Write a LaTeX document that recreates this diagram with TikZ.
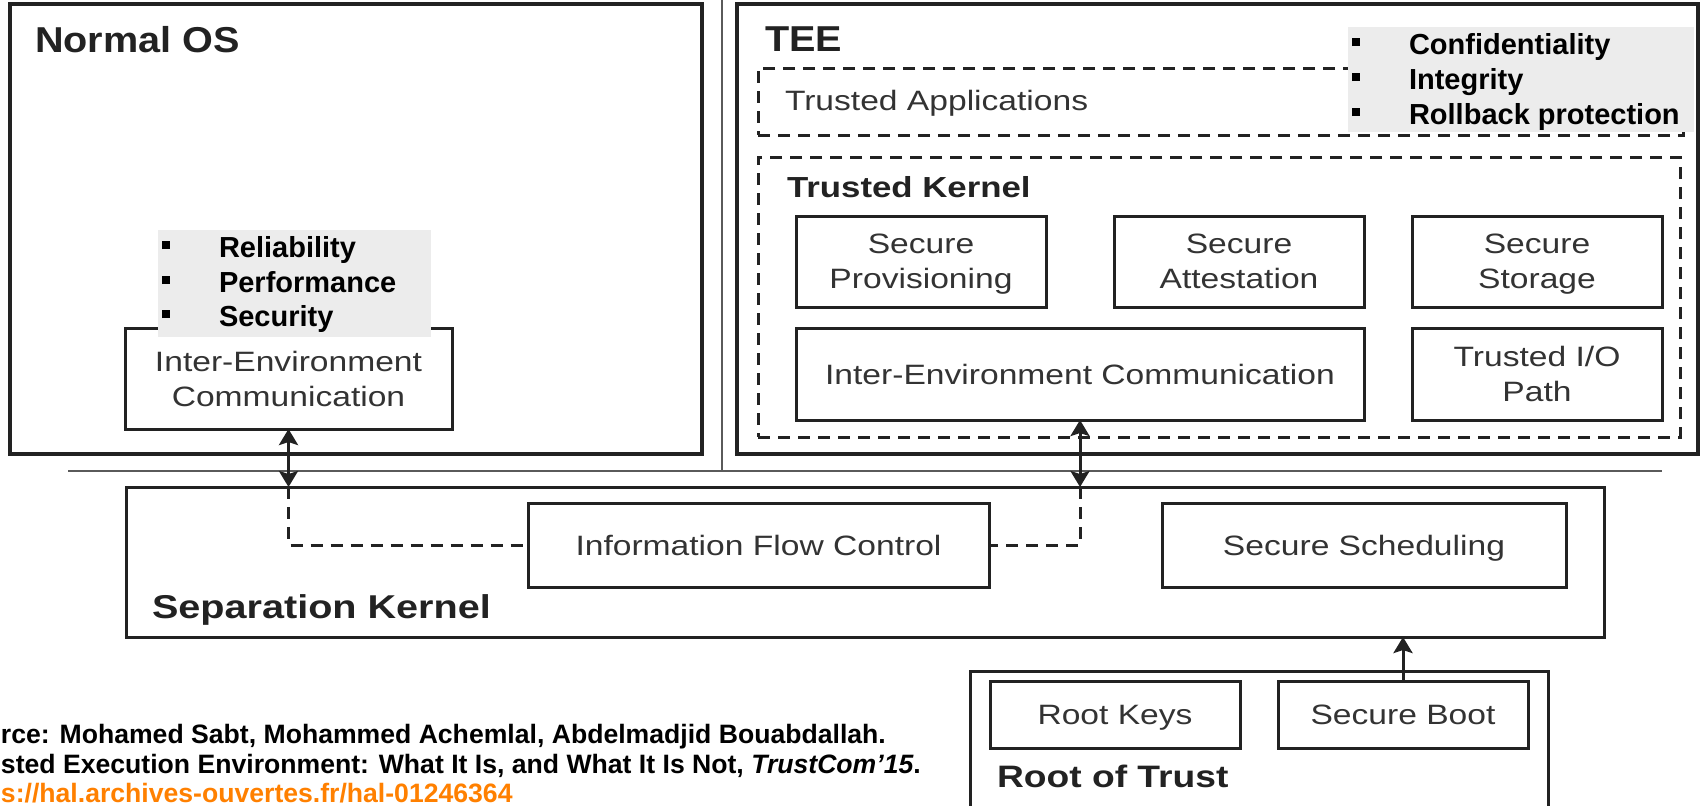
\documentclass[tikz,border=0pt]{standalone}
\usepackage{fontspec}
\setmainfont{Liberation Sans}
\newfontfamily\diagfont[FakeStretch=1.2]{Liberation Sans}
\newfontfamily\headfont[FakeStretch=1.1]{Liberation Sans}
\usetikzlibrary{arrows.meta}
\definecolor{ink}{HTML}{222222}
\definecolor{txt}{HTML}{333333}
\definecolor{panel}{HTML}{ECECEC}
\definecolor{linkorange}{RGB}{255,128,0}
\definecolor{sepline}{HTML}{5A5A5A}
\newcommand\bul{\makebox[28.5pt][l]{\rule[4pt]{4pt}{4pt}}}

\begin{document}
\begin{tikzpicture}[x=0.5pt,y=-0.5pt,
  every node/.style={inner sep=0pt, outer sep=0pt},
  box/.style={draw=ink, line width=1.5pt, align=center, text=txt, text depth=0pt,
    font=\diagfont\fontsize{14pt}{17.5pt}\selectfont},
  frame/.style={draw=ink, line width=1.6pt},
  zone/.style={draw=ink, line width=1.5pt, dash pattern=on 6pt off 4pt},
  panelbox/.style={fill=panel},
  head/.style={anchor=base west, text=ink, font=\headfont\bfseries\fontsize{18pt}{20pt}\selectfont},
  subhead/.style={anchor=base west, text=ink, font=\diagfont\bfseries},
  plain/.style={anchor=base west, text=txt, font=\diagfont\fontsize{14pt}{17.5pt}\selectfont},
  bullet/.style={anchor=base west, text=black, font=\bfseries\fontsize{14.5pt}{17.5pt}\selectfont},
  cite/.style={anchor=base west, text=black, font=\bfseries\fontsize{13.3pt}{15pt}\selectfont},
  sep/.style={draw=sepline, line width=1pt},
  link/.style={draw=ink, line width=1.5pt},
  tip/.style={-{Stealth[length=8pt,width=9.5pt,inset=1.5pt]}},
  tips/.style={{Stealth[length=8pt,width=9.5pt,inset=1.5pt]}-{Stealth[length=8pt,width=9.5pt,inset=1.5pt]}},
  dashlink/.style={draw=ink, line width=1.5pt, dash pattern=on 6pt off 4pt},
]
\useasboundingbox (0,0) rectangle (1702,805);
\clip (0,0) rectangle (1702,805);
\fill[white] (0,0) rectangle (1702,805);

% ---- Normal world ----
\node[frame, minimum width=346pt, minimum height=225pt] (nos) at (356,229) {};
\node[head] (nostitle) at (35,52) {Normal OS};
\node[box, minimum width=163.5pt, minimum height=50.5pt] (iecL) at (288.5,378.5)
  {Inter-Environment\\Communication};
\node[panelbox, minimum width=136.5pt, minimum height=53.5pt] (propsL) at (294.5,283.5) {};
\node[bullet] (pl1) at (162,257) {\bul Reliability};
\node[bullet] (pl2) at (162,292) {\bul Performance};
\node[bullet] (pl3) at (162,326) {\bul Security};

% ---- Trusted world ----
\node[frame, minimum width=480.5pt, minimum height=225pt] (tee) at (1217.5,229) {};
\node[head] (teetitle) at (765,51) {TEE};
\node[zone, minimum width=462.5pt, minimum height=33.5pt] (ta) at (1220.5,101.5) {};
\node[plain] (tatitle) at (785,110) {Trusted Applications};
\node[panelbox, minimum width=173pt, minimum height=52.5pt] (propsR) at (1521,79.5) {};
\node[bullet] (pr1) at (1352,54) {\bul Confidentiality};
\node[bullet] (pr2) at (1352,89) {\bul Integrity};
\node[bullet] (pr3) at (1352,124) {\bul Rollback protection};

\node[zone, minimum width=461pt, minimum height=140pt] (tk) at (1219,297) {};
\node[subhead, font=\diagfont\bfseries\fontsize{14.5pt}{17pt}\selectfont] (tktitle) at (787,197) {Trusted Kernel};
\node[box, minimum width=125pt, minimum height=45.5pt] (sprov) at (921,261.5) {Secure\\Provisioning};
\node[box, minimum width=125pt, minimum height=45.5pt] (satt) at (1239,261.5) {Secure\\Attestation};
\node[box, minimum width=125pt, minimum height=45.5pt] (sstor) at (1537,261.5) {Secure\\Storage};
\node[box, minimum width=284pt, minimum height=46pt] (iecT) at (1080,374) {Inter-Environment Communication};
\node[box, minimum width=125pt, minimum height=46pt] (tio) at (1537,374) {Trusted I/O\\Path};

% ---- separators between the worlds ----
\draw[sep] (722,0) -- (722,471);
\draw[sep] (68,471) -- (1662,471);

% ---- Separation kernel ----
\node[box, minimum width=739pt, minimum height=75pt] (sk) at (865,562) {};
\node[subhead, font=\diagfont\bfseries\fontsize{16.5pt}{19pt}\selectfont] (sktitle) at (152,618) {Separation Kernel};
\node[box, minimum width=230.5pt, minimum height=42pt] (ifc) at (758.5,545) {Information Flow Control};
\node[box, minimum width=202pt, minimum height=42pt] (ssched) at (1364,545) {Secure Scheduling};

% ---- Root of trust ----
\node[box, minimum width=289pt, minimum height=79.5pt] (rot) at (1259,750.5) {};
\node[subhead, font=\diagfont\bfseries\fontsize{15.5pt}{18pt}\selectfont] (rottitle) at (997,787) {Root of Trust};
\node[box, minimum width=125pt, minimum height=33.5pt] (rkeys) at (1115,714.5) {Root Keys};
\node[box, minimum width=125pt, minimum height=33.5pt] (sboot) at (1403,714.5) {Secure Boot};

% ---- connectors ----
\draw[link, tips] (iecL.south) -- (iecL.south |- sk.north);
\draw[dashlink] (iecL.south |- sk.north) -- (iecL.south |- ifc.west) -- (ifc.west);
\draw[link, tips] (iecT.south) -- (iecT.south |- sk.north);
\draw[dashlink] (iecT.south |- sk.north) -- (iecT.south |- ifc.east) -- (ifc.east);
\draw[link, tip] (sboot.north) -- (sboot.north |- sk.south);

% ---- reference lines ----
\node[cite] (src1) at (1,743) {rce: Mohamed Sabt, Mohammed Achemlal, Abdelmadjid Bouabdallah.};
\node[cite] (src2) at (1,773) {sted Execution Environment: What It Is, and What It Is Not, \textit{TrustCom’15}.};
\node[cite, text=linkorange] (src3) at (1,802) {s://hal.archives-ouvertes.fr/hal-01246364};
\end{tikzpicture}
\end{document}
